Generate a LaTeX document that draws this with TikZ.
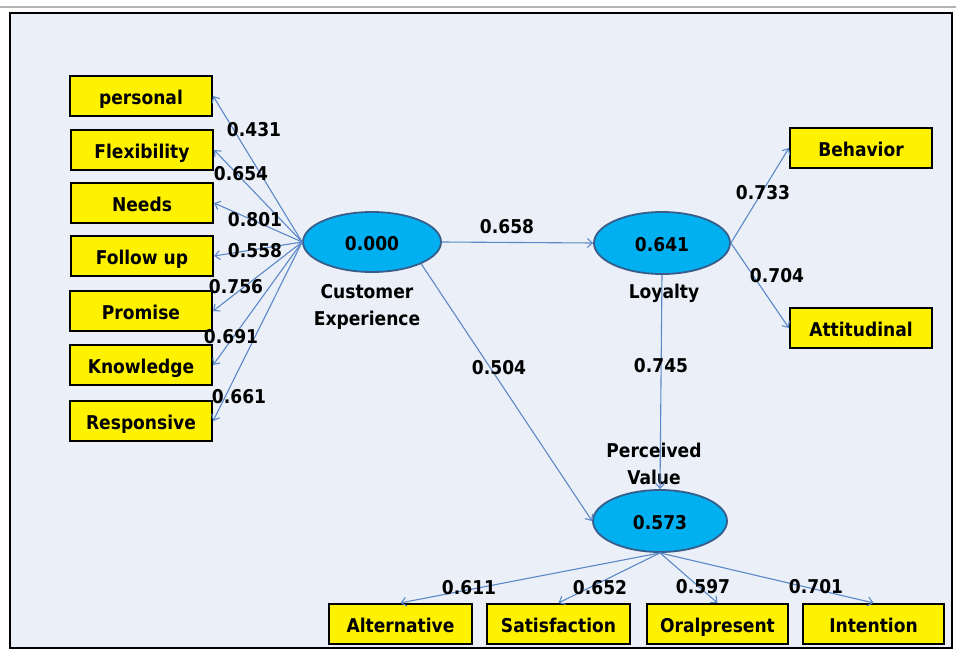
\documentclass[tikz,border=0pt]{standalone}
\usepackage{fontspec}
\setmainfont{DejaVu Sans Condensed}
\usetikzlibrary{arrows.meta,shapes.geometric}
\definecolor{bgc}{HTML}{EBF0F8}
\definecolor{arrc}{HTML}{5B88C8}
\definecolor{ellc}{HTML}{00B0F0}
\definecolor{ellb}{HTML}{385D8A}
\definecolor{topl}{HTML}{B4B4B4}
\tikzset{
  ind/.style={draw=black, line width=2.2pt, fill=yellow, minimum width=142pt, minimum height=40pt, inner sep=0pt, text height=17pt, text depth=1pt, font=\bfseries\fontsize{19}{22}\selectfont},
  lat/.style={ellipse, draw=ellb, line width=1.8pt, fill=ellc, inner sep=0pt, text height=17pt, text depth=1pt, font=\bfseries\fontsize{19}{22}\selectfont},
  txt/.style={inner sep=0pt, font=\bfseries\fontsize{19}{22}\selectfont, align=center},
  two/.style={inner sep=0pt, font=\bfseries\fontsize{19}{26.5}\selectfont, align=center},
  arr/.style={draw=arrc, line width=1.1pt, -{Straight Barb[length=5pt,width=9pt,line width=1.1pt]}},
}
\begin{document}
\begin{tikzpicture}[x=1pt,y=-1pt]
\useasboundingbox (0,0) rectangle (956,651);
\fill[white] (0,0) rectangle (956,651);
\draw[topl, line width=2.5pt] (0,7) -- (956,7);
\draw[black, line width=2.5pt, fill=bgc] (10,13) rectangle (952,648);

% latent variables
\node[lat, minimum width=138pt, minimum height=60pt] (ce) at (372,242) {0.000};
\node[lat, minimum width=136pt, minimum height=62pt] (loy) at (662,243) {0.641};
\node[lat, minimum width=134pt, minimum height=62pt] (pv) at (660,521) {0.573};

\node[two] (cel) at (367,307) {Customer\\Experience};
\node[txt] (loyl) at (664,293) {Loyalty};
\node[two] (pvl) at (654,464) {Perceived\\Value};

% left indicators
\node[ind] (personal) at (141,96) {personal};
\node[ind] (flex) at (142,150) {Flexibility};
\node[ind] (needs) at (142,203) {Needs};
\node[ind] (follow) at (142,256) {Follow up};
\node[ind] (promise) at (141,311) {Promise};
\node[ind] (know) at (141,365) {Knowledge};
\node[ind] (resp) at (141,421) {Responsive};

% right indicators
\node[ind] (beh) at (861,148) {Behavior};
\node[ind] (att) at (861,328) {Attitudinal};

% bottom indicators
\node[ind, minimum width=143pt] (alt) at (400.5,624) {Alternative};
\node[ind, minimum width=143pt] (sat) at (558.5,624) {Satisfaction};
\node[ind, minimum width=141pt] (oral) at (717.5,624) {Oralpresent};
\node[ind, minimum width=141pt] (int) at (873.5,624) {Intention};

% connectors
\coordinate (cew) at (ce.west);
\foreach \t in {personal,flex,needs,follow,promise,know,resp}
  \draw[arr] (cew) -- (\t.east);
\draw[arr] (ce.east) -- (loy.west);
\draw[arr] (ce.-24) -- (pv.west);
\draw[arr] (loy.south) -- (pv.north);
\draw[arr] (loy.east) -- (beh.west);
\draw[arr] (loy.east) -- (att.west);
\foreach \t in {alt,sat,oral,int}
  \draw[arr] (pv.south) -- (\t.north);

% loadings
\node[txt] (l1) at (254,130) {0.431};
\node[txt] (l2) at (241,174) {0.654};
\node[txt] (l3) at (255,220) {0.801};
\node[txt] (l4) at (255,251) {0.558};
\node[txt] (l5) at (236,287) {0.756};
\node[txt] (l6) at (231,337) {0.691};
\node[txt] (l7) at (239,397) {0.661};
\node[txt] (p1) at (507,227) {0.658};
\node[txt] (p2) at (499,368) {0.504};
\node[txt] (p3) at (661,366) {0.745};
\node[txt] (r1) at (763,193) {0.733};
\node[txt] (r2) at (777,276) {0.704};
\node[txt] (b1) at (469,588) {0.611};
\node[txt] (b2) at (600,588) {0.652};
\node[txt] (b3) at (703,587) {0.597};
\node[txt] (b4) at (816,587) {0.701};
\end{tikzpicture}
\end{document}
